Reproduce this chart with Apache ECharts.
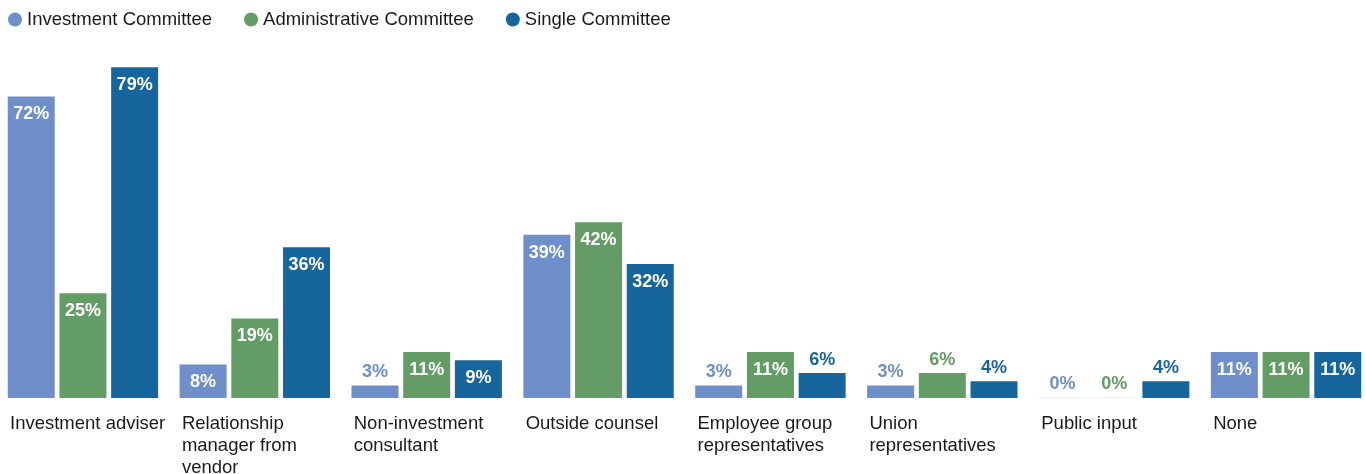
<!DOCTYPE html>
<html>
<head>
<meta charset="utf-8">
<style>
  html, body { margin: 0; padding: 0; background: #ffffff; }
  #chart { width: 1365px; height: 474px; }
</style>
<script src="https://cdn.jsdelivr.net/npm/echarts@6/dist/echarts.min.js"></script>
</head>
<body>
<div id="chart"></div>
<script>
// Who the committees draw on, by committee type (% of respondents)
const categories = [
  'Investment adviser',
  'Relationship manager from vendor',
  'Non-investment consultant',
  'Outside counsel',
  'Employee group representatives',
  'Union representatives',
  'Public input',
  'None'
];
const seriesNames = ['Investment Committee', 'Administrative Committee', 'Single Committee'];
const investmentCommittee = [72, 8, 3, 39, 3, 3, 0, 11];
const administrativeCommittee = [25, 19, 11, 42, 11, 6, 0, 11];
const singleCommittee = [79, 36, 9, 32, 6, 4, 4, 11];

const colors = ['#6F8FCA', '#649C66', '#16669D'];
const faintColors = ['rgba(111,143,202,0.15)', 'rgba(100,156,102,0.15)', 'rgba(22,102,157,0.15)'];
const FONT = '"Liberation Sans", Arial, Helvetica, sans-serif';

function buildData(values, i) {
  return values.map(v => {
    const inside = v >= 7;
    return {
      value: v,
      itemStyle: v === 0 ? { color: faintColors[i] } : undefined,
      label: {
        position: inside ? 'insideTop' : 'top',
        distance: inside ? 9 : 4,
        color: inside ? '#ffffff' : colors[i]
      }
    };
  });
}

const valueSets = [investmentCommittee, administrativeCommittee, singleCommittee];

const series = seriesNames.map((name, i) => ({
  name: name,
  type: 'bar',
  xAxisIndex: 0,
  barWidth: 47,
  barGap: '10%',
  barMinHeight: 1,
  itemStyle: { color: colors[i] },
  label: {
    show: true,
    formatter: '{c}%',
    fontFamily: FONT,
    fontWeight: 'bold',
    fontSize: 18
  },
  emphasis: { disabled: true },
  data: buildData(valueSets[i], i)
}));

const chart = echarts.init(document.getElementById('chart'), null, { renderer: 'canvas' });
chart.setOption({
  animation: false,
  textStyle: { fontFamily: FONT },
  legend: {
    left: 3,
    top: 5,
    icon: 'circle',
    itemWidth: 14,
    itemHeight: 14,
    itemGap: 32,
    textStyle: { fontSize: 18.5, color: '#1a1a1a', fontFamily: FONT },
    data: seriesNames
  },
  grid: {
    left: -3,
    width: 1375,
    top: 63,
    bottom: 76,
    containLabel: false,
    outerBoundsMode: 'none'
  },
  xAxis: [
    {
      type: 'category',
      data: categories,
      axisLine: { show: false },
      axisTick: { show: false },
      axisLabel: { show: false }
    },
    {
      // label track placed on category boundaries so names start at each group's left edge
      type: 'category',
      boundaryGap: false,
      position: 'bottom',
      data: categories.concat(['']),
      axisLine: { show: false },
      axisTick: { show: false },
      splitLine: { show: false },
      axisLabel: {
        interval: 0,
        align: 'left',
        verticalAlign: 'top',
        padding: [0, 0, 0, 13],
        margin: 15,
        width: 166,
        overflow: 'break',
        lineHeight: 22,
        fontSize: 18.5,
        color: '#1a1a1a',
        fontFamily: FONT
      }
    }
  ],
  yAxis: {
    type: 'value',
    min: 0,
    max: 80,
    show: false,
    splitLine: { show: false }
  },
  series: series
});
</script>
</body>
</html>
